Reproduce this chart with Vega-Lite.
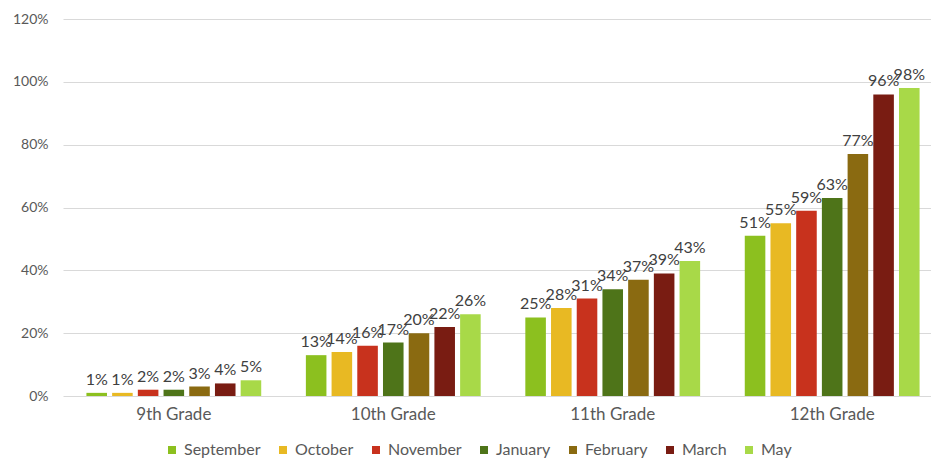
{
  "$schema": "https://vega.github.io/schema/vega-lite/v6.json",
  "width": 868,
  "height": 377,
  "autosize": "none",
  "padding": {"left": 63, "top": 19, "right": 0, "bottom": 64},
  "background": "white",
  "config": {"view": {"stroke": null}, "font": "Lato"},
  "data": {
    "values": [
      {"grade": "9th Grade", "month": "September", "value": 0.01},
      {"grade": "9th Grade", "month": "October", "value": 0.01},
      {"grade": "9th Grade", "month": "November", "value": 0.02},
      {"grade": "9th Grade", "month": "January", "value": 0.02},
      {"grade": "9th Grade", "month": "February", "value": 0.03},
      {"grade": "9th Grade", "month": "March", "value": 0.04},
      {"grade": "9th Grade", "month": "May", "value": 0.05},
      {"grade": "10th Grade", "month": "September", "value": 0.13},
      {"grade": "10th Grade", "month": "October", "value": 0.14},
      {"grade": "10th Grade", "month": "November", "value": 0.16},
      {"grade": "10th Grade", "month": "January", "value": 0.17},
      {"grade": "10th Grade", "month": "February", "value": 0.20},
      {"grade": "10th Grade", "month": "March", "value": 0.22},
      {"grade": "10th Grade", "month": "May", "value": 0.26},
      {"grade": "11th Grade", "month": "September", "value": 0.25},
      {"grade": "11th Grade", "month": "October", "value": 0.28},
      {"grade": "11th Grade", "month": "November", "value": 0.31},
      {"grade": "11th Grade", "month": "January", "value": 0.34},
      {"grade": "11th Grade", "month": "February", "value": 0.37},
      {"grade": "11th Grade", "month": "March", "value": 0.39},
      {"grade": "11th Grade", "month": "May", "value": 0.43},
      {"grade": "12th Grade", "month": "September", "value": 0.51},
      {"grade": "12th Grade", "month": "October", "value": 0.55},
      {"grade": "12th Grade", "month": "November", "value": 0.59},
      {"grade": "12th Grade", "month": "January", "value": 0.63},
      {"grade": "12th Grade", "month": "February", "value": 0.77},
      {"grade": "12th Grade", "month": "March", "value": 0.96},
      {"grade": "12th Grade", "month": "May", "value": 0.98}
    ]
  },
  "encoding": {
    "x": {
      "field": "grade",
      "type": "nominal",
      "sort": ["9th Grade", "10th Grade", "11th Grade", "12th Grade"],
      "scale": {"range": [0, 880], "paddingInner": 0.18, "paddingOuter": 0.095},
      "axis": {
        "title": null,
        "labelAngle": 0,
        "ticks": false,
        "domain": false,
        "labelFontSize": 17,
        "labelColor": "#595959",
        "labelPadding": 10
      }
    },
    "xOffset": {
      "field": "month",
      "type": "nominal",
      "sort": ["September", "October", "November", "January", "February", "March", "May"],
      "scale": {"paddingInner": 0.2, "paddingOuter": 0.1}
    },
    "y": {
      "field": "value",
      "type": "quantitative",
      "scale": {"domain": [0, 1.2]},
      "axis": {
        "title": null,
        "format": ".0%",
        "values": [0, 0.2, 0.4, 0.6, 0.8, 1.0, 1.2],
        "domain": false,
        "ticks": false,
        "labelPadding": 15,
        "gridColor": "#d9d9d9",
        "labelColor": "#595959",
        "labelFontSize": 14
      }
    }
  },
  "layer": [
    {
      "mark": {"type": "bar"},
      "encoding": {
        "color": {
          "field": "month",
          "type": "nominal",
          "sort": ["September", "October", "November", "January", "February", "March", "May"],
          "scale": {
            "domain": ["September", "October", "November", "January", "February", "March", "May"],
            "range": ["#8cc01f", "#e8b923", "#c8321d", "#4e7419", "#8a6a11", "#791c12", "#a8d948"]
          },
          "legend": {
            "title": null,
            "orient": "none",
            "legendX": 101,
            "legendY": 423,
            "direction": "horizontal",
            "columns": 7,
            "symbolType": "square",
            "symbolSize": 64,
            "symbolStrokeWidth": 0,
            "labelFontSize": 16,
            "labelColor": "#595959",
            "labelOffset": 4,
            "columnPadding": 14
          }
        }
      }
    },
    {
      "mark": {"type": "text", "dy": -5, "baseline": "bottom", "fontSize": 16, "color": "#404040"},
      "encoding": {"text": {"field": "value", "type": "quantitative", "format": ".0%"}}
    }
  ]
}
